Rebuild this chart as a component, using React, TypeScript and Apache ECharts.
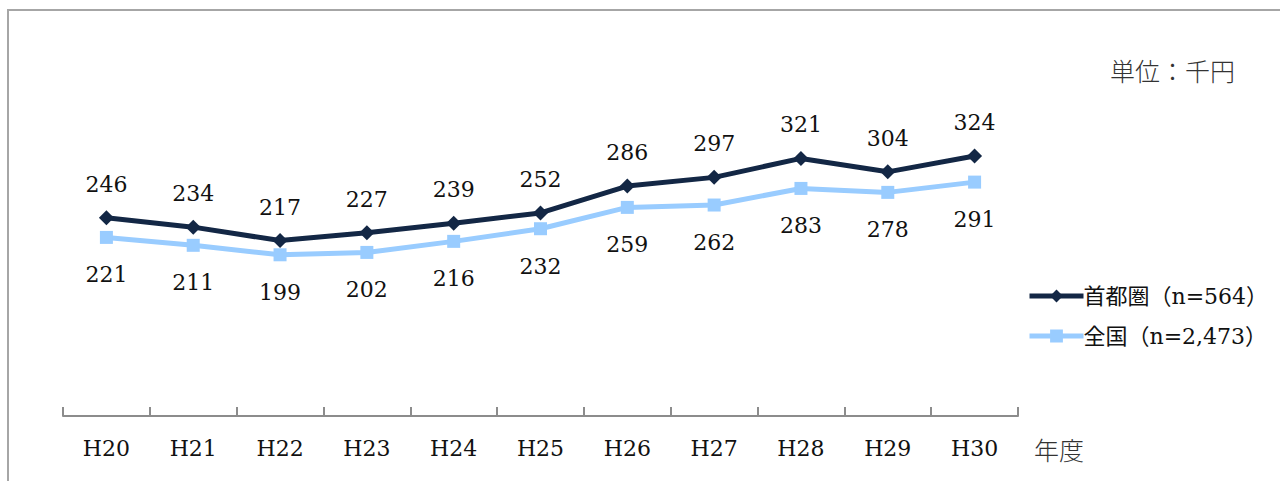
import React, { useEffect, useRef } from "react";
import * as echarts from "echarts";

const categories = ["H20", "H21", "H22", "H23", "H24", "H25", "H26", "H27", "H28", "H29", "H30"];
const metroValues = [246, 234, 217, 227, 239, 252, 286, 297, 321, 304, 324];
const nationalValues = [221, 211, 199, 202, 216, 232, 259, 262, 283, 278, 291];
const metroName = "首都圏（n=564）";
const nationalName = "全国（n=2,473）";
const unitText = "単位：千円";
const axisName = "年度";

const FONT = "'DejaVu Serif', 'Noto Sans CJK JP', serif";
const DARK = "#132745";
const LIGHT = "#99ccff";

export default function App() {
  const ref = useRef<HTMLDivElement>(null);
  useEffect(() => {
    if (!ref.current) return;
    const chart = echarts.init(ref.current, null, { renderer: "svg" });
    chart.setOption({
      animation: false,
      backgroundColor: "#ffffff",
      textStyle: { fontFamily: FONT },
      grid: { left: 63, right: 262, top: 96, bottom: 69 },
      graphic: [
        {
          type: "rect",
          shape: { x: 8, y: 10, width: 1290, height: 500 },
          style: { fill: "none", stroke: "#a6a6a6", lineWidth: 2 },
          silent: true,
        },
        {
          type: "text",
          x: 1110,
          y: 70,
          style: {
            text: unitText,
            font: "300 25px 'Noto Sans CJK JP'",
            fill: "#333",
            verticalAlign: "middle",
          },
        },
      ],
      legend: {
        orient: "vertical",
        left: 1022,
        top: 280,
        itemWidth: 54,
        itemHeight: 16,
        itemGap: 18,
        lineStyle: { width: 5 },
        textStyle: { fontFamily: FONT, fontSize: 22, color: "#111", padding: [0, 0, 0, -5] },
        data: [metroName, nationalName],
      },
      xAxis: {
        type: "category",
        data: categories,
        boundaryGap: true,
        offset: 4,
        axisLine: { onZero: false, lineStyle: { color: "#8c8c8c", width: 2 } },
        axisTick: { show: true, inside: true, length: 9, lineStyle: { color: "#8c8c8c", width: 2 } },
        axisLabel: { fontFamily: FONT, fontSize: 22, color: "#111", margin: 21 },
        name: axisName,
        nameLocation: "end",
        nameGap: 16,
        nameTextStyle: {
          fontFamily: "'Noto Sans CJK JP'",
          fontWeight: 300,
          fontSize: 25,
          color: "#333",
          verticalAlign: "top",
          padding: [20, 0, 0, 0],
        },
      },
      yAxis: {
        type: "value",
        min: 0,
        max: 400,
        show: false,
        splitLine: { show: false },
      },
      series: [
        {
          name: metroName,
          type: "line",
          data: metroValues,
          symbol: "diamond",
          symbolSize: 15,
          lineStyle: { color: DARK, width: 5 },
          itemStyle: { color: DARK },
          label: {
            show: true,
            position: "top",
            distance: 15,
            fontFamily: FONT,
            fontSize: 22,
            color: "#111",
          },
          z: 3,
        },
        {
          name: nationalName,
          type: "line",
          data: nationalValues,
          symbol: "rect",
          symbolSize: 13,
          lineStyle: { color: LIGHT, width: 5 },
          itemStyle: { color: LIGHT },
          label: {
            show: true,
            position: "bottom",
            distance: 20,
            fontFamily: FONT,
            fontSize: 22,
            color: "#111",
          },
          z: 2,
        },
      ],
    });
    return () => chart.dispose();
  }, []);
  return (
    <div
      ref={ref}
      style={{ position: "absolute", left: 0, top: 0, width: 1280, height: 481 }}
    />
  );
}
